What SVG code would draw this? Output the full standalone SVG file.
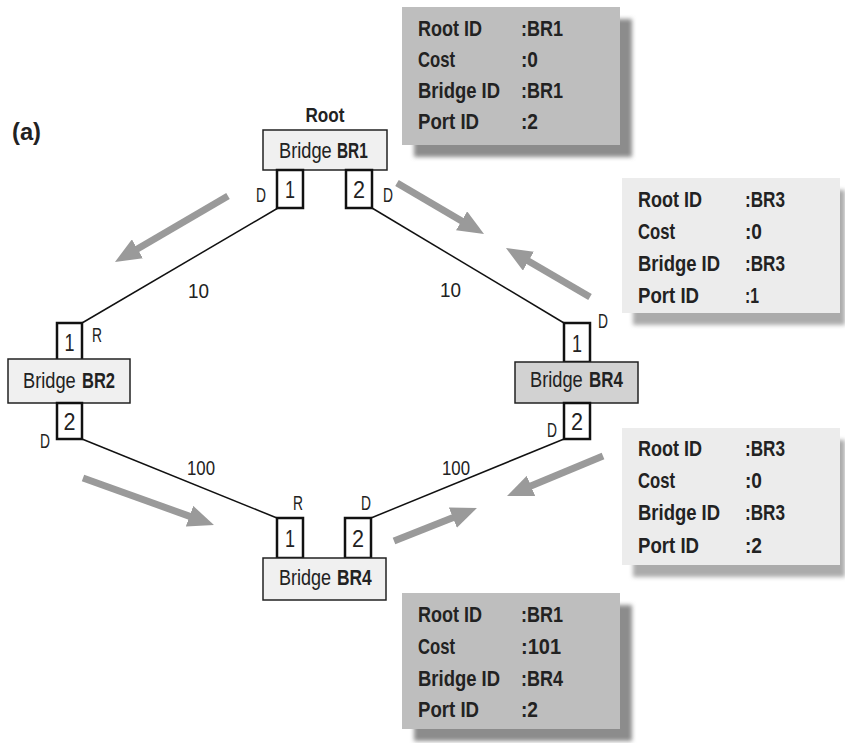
<svg xmlns="http://www.w3.org/2000/svg" width="845" height="743" viewBox="0 0 845 743">
<style>
text{font-family:"Liberation Sans","DejaVu Sans Condensed",Arial,sans-serif;fill:#222}
.box{stroke:#222;stroke-width:1.5}
.light{fill:#f0f0f0}
.mid{fill:#d2d2d2}
.port{fill:#fff;stroke:#111;stroke-width:2.5}
.lbl{font-size:20px}
.pn{font-size:23px;text-anchor:middle}
.bt{font-size:22px}
.bb{font-size:22px;font-weight:bold}
.info{font-size:22px;font-weight:bold}
.link{stroke:#111;stroke-width:1.5;fill:none}
.garr{stroke:#9a9a9a;stroke-width:7;fill:none;marker-end:url(#ah)}
.sh{fill:#8c8c8c;filter:url(#bl)}
.shl{fill:#ababab;filter:url(#bl)}
</style>
<defs>
<marker id="ah" markerUnits="userSpaceOnUse" viewBox="0 0 26 22" markerWidth="26" markerHeight="22" refX="10" refY="11" orient="auto"><path d="M0,0 L26,11 L0,22 z" fill="#9a9a9a"/></marker>
<filter id="bl" x="-10%" y="-10%" width="120%" height="120%"><feGaussianBlur stdDeviation="2"/></filter>
</defs>
<rect width="845" height="743" fill="#fff"/>
<text x="12" y="140" textLength="29" lengthAdjust="spacingAndGlyphs" style="font-size:23px;font-weight:bold">(a)</text>

<g id="connectors">
<line class="link" x1="278" y1="208" x2="82" y2="323"/>
<line class="link" x1="372" y1="208" x2="564" y2="323"/>
<line class="link" x1="82" y1="439" x2="277" y2="518"/>
<line class="link" x1="371" y1="518" x2="564" y2="439"/>
<text class="lbl" x="188" y="298" textLength="21" lengthAdjust="spacingAndGlyphs">10</text>
<text class="lbl" x="440" y="297" textLength="21" lengthAdjust="spacingAndGlyphs">10</text>
<text class="lbl" x="187" y="475" textLength="28" lengthAdjust="spacingAndGlyphs">100</text>
<text class="lbl" x="442" y="475" textLength="28" lengthAdjust="spacingAndGlyphs">100</text>
<line class="garr" x1="228" y1="196" x2="128.8" y2="253.9"/>
<line class="garr" x1="397" y1="183" x2="470.2" y2="225.9"/>
<line class="garr" x1="590" y1="297" x2="519.8" y2="256.1"/>
<line class="garr" x1="83" y1="478" x2="198.9" y2="519.6"/>
<line class="garr" x1="394" y1="541" x2="462.1" y2="513.9"/>
<line class="garr" x1="603" y1="456" x2="521.8" y2="489.8"/>
</g>

<g id="br1">
<text x="325" y="122" textLength="39" lengthAdjust="spacingAndGlyphs" style="font-size:21px;font-weight:bold;text-anchor:middle">Root</text>
<rect class="box light" x="263" y="130" width="124" height="40"/>
<text class="bt" transform="translate(279,158) scale(0.83,1)">Bridge</text>
<text class="bb" transform="translate(337,158) scale(0.7,1)">BR1</text>
<rect class="port" x="277" y="170" width="26" height="38"/>
<text class="pn" x="290" y="198" textLength="10" lengthAdjust="spacingAndGlyphs">1</text>
<rect class="port" x="346" y="170" width="26" height="38"/>
<text class="pn" x="359" y="198" textLength="12" lengthAdjust="spacingAndGlyphs">2</text>
<text class="lbl" x="256" y="202" textLength="10" lengthAdjust="spacingAndGlyphs">D</text>
<text class="lbl" x="383" y="202" textLength="10" lengthAdjust="spacingAndGlyphs">D</text>
</g>

<g id="br2">
<rect class="port" x="57" y="323" width="25" height="39"/>
<text class="pn" x="69.5" y="351" textLength="10" lengthAdjust="spacingAndGlyphs">1</text>
<rect class="box light" x="8" y="359" width="122" height="44"/>
<text class="bt" transform="translate(23,388) scale(0.83,1)">Bridge</text>
<text class="bb" transform="translate(82,388) scale(0.75,1)">BR2</text>
<rect class="port" x="57" y="403" width="25" height="36"/>
<text class="pn" x="69.5" y="430" textLength="12" lengthAdjust="spacingAndGlyphs">2</text>
<text class="lbl" x="92" y="342" textLength="10" lengthAdjust="spacingAndGlyphs">R</text>
<text class="lbl" x="40" y="448" textLength="10" lengthAdjust="spacingAndGlyphs">D</text>
</g>

<g id="br4right">
<rect class="port" x="564" y="323" width="26" height="39"/>
<text class="pn" x="577" y="352" textLength="10" lengthAdjust="spacingAndGlyphs">1</text>
<rect class="box mid" x="515" y="362" width="123" height="41"/>
<text class="bt" transform="translate(530,387) scale(0.83,1)">Bridge</text>
<text class="bb" transform="translate(589,387) scale(0.77,1)">BR4</text>
<rect class="port" x="564" y="403" width="26" height="36"/>
<text class="pn" x="577" y="430" textLength="12" lengthAdjust="spacingAndGlyphs">2</text>
<text class="lbl" x="598" y="328" textLength="10" lengthAdjust="spacingAndGlyphs">D</text>
<text class="lbl" x="547" y="437" textLength="10" lengthAdjust="spacingAndGlyphs">D</text>
</g>

<g id="br4bottom">
<rect class="port" x="277" y="518" width="26" height="40"/>
<text class="pn" x="290" y="547" textLength="10" lengthAdjust="spacingAndGlyphs">1</text>
<rect class="port" x="345" y="518" width="26" height="40"/>
<text class="pn" x="358" y="547" textLength="12" lengthAdjust="spacingAndGlyphs">2</text>
<rect class="box light" x="263" y="558" width="123" height="42"/>
<text class="bt" transform="translate(279,585) scale(0.82,1)">Bridge</text>
<text class="bb" transform="translate(337,585) scale(0.79,1)">BR4</text>
<text class="lbl" x="293" y="510" textLength="10" lengthAdjust="spacingAndGlyphs">R</text>
<text class="lbl" x="361" y="510" textLength="10" lengthAdjust="spacingAndGlyphs">D</text>
</g>

<g id="info1">
<rect class="sh" x="414" y="19" width="218" height="138"/>
<rect x="402" y="7" width="218" height="138" fill="#bebebe"/>
<text class="info" x="418" y="36" textLength="64" lengthAdjust="spacingAndGlyphs">Root ID</text><text class="info" x="521" y="36" textLength="42" lengthAdjust="spacingAndGlyphs">:BR1</text>
<text class="info" x="418" y="67" textLength="37" lengthAdjust="spacingAndGlyphs">Cost</text><text class="info" x="521" y="67" textLength="17" lengthAdjust="spacingAndGlyphs">:0</text>
<text class="info" x="418" y="98" textLength="82" lengthAdjust="spacingAndGlyphs">Bridge ID</text><text class="info" x="521" y="98" textLength="42" lengthAdjust="spacingAndGlyphs">:BR1</text>
<text class="info" x="418" y="129" textLength="61" lengthAdjust="spacingAndGlyphs">Port ID</text><text class="info" x="521" y="129" textLength="17" lengthAdjust="spacingAndGlyphs">:2</text>
</g>

<g id="info2">
<rect class="shl" x="633" y="190" width="212" height="135"/>
<rect x="622" y="178" width="218" height="135" fill="#ececec"/>
<text class="info" x="638" y="207" textLength="64" lengthAdjust="spacingAndGlyphs">Root ID</text><text class="info" x="745" y="207" textLength="40" lengthAdjust="spacingAndGlyphs">:BR3</text>
<text class="info" x="638" y="239" textLength="37" lengthAdjust="spacingAndGlyphs">Cost</text><text class="info" x="745" y="239" textLength="17" lengthAdjust="spacingAndGlyphs">:0</text>
<text class="info" x="638" y="271" textLength="82" lengthAdjust="spacingAndGlyphs">Bridge ID</text><text class="info" x="745" y="271" textLength="40" lengthAdjust="spacingAndGlyphs">:BR3</text>
<text class="info" x="638" y="303" textLength="61" lengthAdjust="spacingAndGlyphs">Port ID</text><text class="info" x="745" y="303" textLength="14" lengthAdjust="spacingAndGlyphs">:1</text>
</g>

<g id="info3">
<rect class="shl" x="633" y="440" width="212" height="137"/>
<rect x="622" y="428" width="218" height="137" fill="#ececec"/>
<text class="info" x="638" y="456" textLength="64" lengthAdjust="spacingAndGlyphs">Root ID</text><text class="info" x="745" y="456" textLength="40" lengthAdjust="spacingAndGlyphs">:BR3</text>
<text class="info" x="638" y="488" textLength="37" lengthAdjust="spacingAndGlyphs">Cost</text><text class="info" x="745" y="488" textLength="17" lengthAdjust="spacingAndGlyphs">:0</text>
<text class="info" x="638" y="520" textLength="82" lengthAdjust="spacingAndGlyphs">Bridge ID</text><text class="info" x="745" y="520" textLength="40" lengthAdjust="spacingAndGlyphs">:BR3</text>
<text class="info" x="638" y="553" textLength="61" lengthAdjust="spacingAndGlyphs">Port ID</text><text class="info" x="745" y="553" textLength="17" lengthAdjust="spacingAndGlyphs">:2</text>
</g>

<g id="info4">
<rect class="sh" x="414" y="605" width="218" height="136"/>
<rect x="402" y="593" width="218" height="136" fill="#bebebe"/>
<text class="info" x="418" y="622" textLength="64" lengthAdjust="spacingAndGlyphs">Root ID</text><text class="info" x="521" y="622" textLength="42" lengthAdjust="spacingAndGlyphs">:BR1</text>
<text class="info" x="418" y="654" textLength="37" lengthAdjust="spacingAndGlyphs">Cost</text><text class="info" x="521" y="654" textLength="40" lengthAdjust="spacingAndGlyphs">:101</text>
<text class="info" x="418" y="686" textLength="82" lengthAdjust="spacingAndGlyphs">Bridge ID</text><text class="info" x="521" y="686" textLength="42" lengthAdjust="spacingAndGlyphs">:BR4</text>
<text class="info" x="418" y="717" textLength="61" lengthAdjust="spacingAndGlyphs">Port ID</text><text class="info" x="521" y="717" textLength="17" lengthAdjust="spacingAndGlyphs">:2</text>
</g>
</svg>
